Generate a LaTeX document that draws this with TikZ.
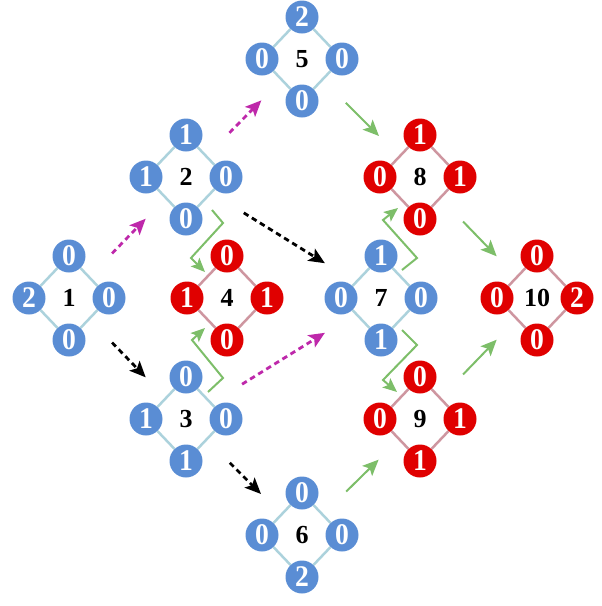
\documentclass[tikz,border=0pt]{standalone}
\usepackage{fontspec}
\setmainfont{Liberation Serif}
\newfontfamily\dotfont{Liberation Serif}[FakeStretch=0.92]
\usetikzlibrary{arrows.meta}

\definecolor{dotblue}{RGB}{90,141,212}
\definecolor{dotred}{RGB}{224,0,0}
\definecolor{edgeblue}{RGB}{172,210,220}
\definecolor{edgered}{RGB}{206,150,160}
\definecolor{arrowgreen}{RGB}{125,190,105}
\definecolor{arrowmag}{RGB}{190,40,170}

\tikzset{
  dotbase/.style={circle, minimum size=33pt, inner sep=0pt, text=white,
    font=\dotfont\fontsize{30}{30}\selectfont\bfseries},
  bluedot/.style={dotbase, fill=dotblue},
  reddot/.style={dotbase, fill=dotred},
  blueedge/.style={draw=edgeblue, line width=2.5pt},
  rededge/.style={draw=edgered, line width=2.5pt},
  lbl/.style={font=\fontsize{26}{26}\selectfont\bfseries, inner sep=0pt},
  tipped/.style={-{Stealth[length=16pt,width=14pt,inset=3.5pt]}},
  dashedarrow/.style={tipped, line width=2.8pt, dash pattern=on 5.5pt off 4pt,
    shorten <=62pt, shorten >=58pt},
  blackarrow/.style={dashedarrow, draw=black},
  magarrow/.style={dashedarrow, draw=arrowmag},
  greenarrow/.style={tipped, draw=arrowgreen, line width=2pt,
    shorten <=62pt, shorten >=58pt},
  zigarrow/.style={-{Stealth[length=14pt,width=12pt,inset=3pt]},
    draw=arrowgreen, line width=2pt, line join=miter},
}

% #1 name, #2 label, #3 x, #4 y, #5 colour, #6 top, #7 left, #8 right, #9 bottom
\newcommand{\stategraph}[9]{%
  \node[lbl] (#1c) at (#3,#4) {#2};
  \node[#5dot] (#1t) at (#3,#4-42) {#6};
  \node[#5dot] (#1l) at (#3-40,#4) {#7};
  \node[#5dot] (#1r) at (#3+40,#4) {#8};
  \node[#5dot] (#1b) at (#3,#4+42) {#9};
  \draw[#5edge] (#1t) -- (#1r) -- (#1b) -- (#1l) -- (#1t);
}

\begin{document}
\begin{tikzpicture}[x=1pt,y=-1pt]
\useasboundingbox (0,0) rectangle (602,606);

\stategraph{ga}{1}{69}{298}{blue}{0}{2}{0}{0}
\stategraph{gb}{2}{186}{177}{blue}{1}{1}{0}{0}
\stategraph{gc}{3}{186}{419}{blue}{0}{1}{0}{1}
\stategraph{gd}{4}{227}{298}{red}{0}{1}{1}{0}
\stategraph{ge}{5}{302}{59}{blue}{2}{0}{0}{0}
\stategraph{gf}{6}{302}{535}{blue}{0}{0}{0}{2}
\stategraph{gg}{7}{381}{298}{blue}{1}{0}{0}{1}
\stategraph{gh}{8}{420}{177}{red}{1}{0}{1}{0}
\stategraph{gi}{9}{420}{419}{red}{0}{0}{1}{1}
\stategraph{gj}{10}{537}{298}{red}{0}{0}{2}{0}

% transitions between states
\draw[magarrow]   (gac.center) -- (gbc.center);
\draw[blackarrow] (gac.center) -- (gcc.center);
\draw[magarrow]   (gbc.center) -- (gec.center);
\draw[blackarrow, shorten <=68pt, shorten >=66pt] (gbc.center) -- (ggc.center);
\draw[magarrow, shorten <=66pt, shorten >=66pt]   (gcc.center) -- (ggc.center);
\draw[blackarrow] (gcc.center) -- (gfc.center);
\draw[greenarrow] (gec.center) -- (ghc.center);
\draw[greenarrow] (ghc.center) -- (gjc.center);
\draw[greenarrow] (gfc.center) -- (gic.center);
\draw[greenarrow] (gic.center) -- (gjc.center);

% zigzag moves into the red states
\coordinate (zba) at (212,210);
\coordinate (zbb) at (223,223);
\coordinate (zbc) at (191,258);
\coordinate (zbd) at (205,272);
\draw[zigarrow] (zba) -- (zbb) -- (zbc) -- (zbd);

\coordinate (zca) at (208,392);
\coordinate (zcb) at (223,378);
\coordinate (zcc) at (192,340);
\coordinate (zcd) at (205,328);
\draw[zigarrow] (zca) -- (zcb) -- (zcc) -- (zcd);

\coordinate (zga) at (402,270);
\coordinate (zgb) at (417,258);
\coordinate (zgc) at (383,220);
\coordinate (zgd) at (398,208);
\draw[zigarrow] (zga) -- (zgb) -- (zgc) -- (zgd);

\coordinate (zha) at (402,330);
\coordinate (zhb) at (417,345);
\coordinate (zhc) at (383,380);
\coordinate (zhd) at (397,392);
\draw[zigarrow] (zha) -- (zhb) -- (zhc) -- (zhd);
\end{tikzpicture}
\end{document}
